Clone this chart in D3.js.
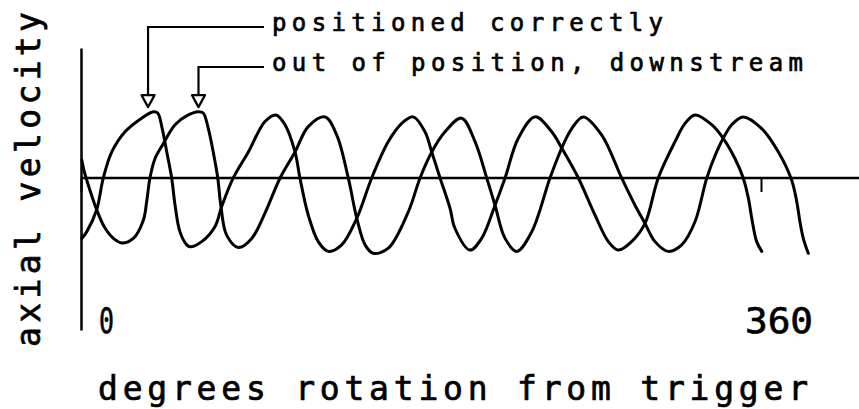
<!DOCTYPE html>
<html>
<head>
<meta charset="utf-8">
<script src="https://cdn.jsdelivr.net/npm/d3@7"></script>
<style>
  html, body { margin: 0; padding: 0; background: #fff; }
  svg { display: block; }
  text { font-family: "DejaVu Sans Mono", monospace; fill: #000; stroke: #000; stroke-width: 0.7px; }
</style>
</head>
<body>
<svg id="chart" width="859" height="409"></svg>
<script>
// Axial velocity traces against rotor angle (degrees from trigger)
const xTickValues = [0, 360];
const xTickLabels = ["0", "360"];

// probe positioned correctly
const degA = [0.4, 3.0, 8.3, 11.8, 16.3, 23.3, 32.1, 38.3, 40.6, 43.0, 45.4, 48.0, 49.8, 52.4, 56.0, 57.7,
  63.9, 70.9, 74.5, 80.6, 88.6, 97.4, 103.2, 108.0, 113.3, 115.9, 120.3, 125.6, 130.9, 138.0, 146.0,
  153.9, 162.7, 169.8, 175.9, 182.1, 185.7, 190.1, 195.4, 197.9, 205.9, 212.1, 219.2, 224.5, 231.5,
  240.4, 249.2, 254.5, 263.3, 272.1, 279.2, 284.5, 291.5, 298.6, 305.6, 314.5, 319.8, 325.1, 333.9,
  340.0, 346.2, 350.6, 353.3, 355.4, 357.7, 360.4];
const velA = [-0.93, -0.83, -0.49, 0.0, 0.40, 0.71, 0.92, 1.02, 1.00, 0.76, 0.40, 0.0, -0.42, -0.83, -1.03, -1.06,
  -0.98, -0.75, -0.44, 0.0, 0.40, 0.87, 0.97, 0.82, 0.40, 0.0, -0.57, -0.98, -1.13, -1.03, -0.62,
  0.0, 0.56, 0.84, 0.94, 0.71, 0.40, 0.0, -0.47, -0.77, -1.11, -0.93, -0.42, 0.0, 0.61,
  0.94, 0.71, 0.46, 0.0, -0.57, -0.98, -1.11, -0.98, -0.70, 0.0, 0.56, 0.84, 0.97, 0.82,
  0.61, 0.30, 0.0, -0.31, -0.67, -0.98, -1.13];

// probe out of position, downstream
const degB = [0.4, 1.7, 3.0, 8.3, 12.7, 18.0, 21.5, 27.7, 33.0, 34.8, 36.5, 39.2, 43.6, 49.8, 56.8, 62.1,
  64.7, 67.4, 70.0, 72.4, 74.1, 77.1, 83.3, 90.4, 97.4, 105.4, 113.3, 120.3, 129.2, 135.4, 141.5,
  146.0, 150.4, 154.7, 162.7, 173.3, 179.5, 185.7, 192.7, 201.5, 208.6, 214.8, 219.2, 224.5, 230.7,
  238.6, 248.3, 254.5, 259.8, 265.9, 275.7, 286.2, 293.3, 298.6, 303.9, 310.9, 318.0, 325.1, 331.3,
  336.5, 340.0, 344.5, 350.6, 360.4, 369.2, 376.2, 378.9, 380.6, 382.4, 385.0];
const velB = [0.28, 0.10, -0.03, -0.49, -0.77, -0.95, -1.00, -0.93, -0.65, -0.36, 0.0, 0.30, 0.53, 0.82, 0.97, 1.02,
  1.00, 0.76, 0.40, 0.0, -0.44, -0.88, -1.07, -0.93, -0.54, 0.0, 0.40, 0.79, 0.94, 0.66, 0.0,
  -0.62, -1.03, -1.16, -1.08, -0.52, 0.0, 0.40, 0.71, 0.92, 0.56, 0.0, -0.42, -0.93, -1.13,
  -0.83, 0.0, 0.46, 0.76, 0.94, 0.66, 0.0, -0.42, -0.70, -0.98, -1.13, -1.03, -0.67, 0.0,
  0.40, 0.61, 0.82, 0.94, 0.76, 0.40, -0.03, -0.36, -0.67, -0.93, -1.16];

// call-out labels and the angle / level their arrows point at
const noteLabels = ["positioned correctly", "out of position, downstream"];
const noteDeg = [35.5, 62.2];
const noteVel = [1.09, 1.09];

const W = 859, H = 409;
const svg = d3.select("#chart");

const x = d3.scaleLinear().domain([0, 360]).range([81, 761]);
const y = d3.scaleLinear().domain([-2.34, 2.0]).range([330, 48]);

// vertical axis
const yAxis = svg.append("g")
  .attr("transform", `translate(${x(0)},0)`)
  .call(d3.axisLeft(y).tickValues([]).tickSizeOuter(0));
yAxis.select(".domain").attr("stroke", "#000").attr("stroke-width", 2.5);

// zero line across the plot
svg.append("line")
  .attr("x1", x(0)).attr("x2", W)
  .attr("y1", y(0)).attr("y2", y(0))
  .attr("stroke", "#000").attr("stroke-width", 2.5);

// tick marks below the zero line
const xAxis = svg.append("g")
  .attr("transform", `translate(0,${y(0)})`)
  .call(d3.axisBottom(x).tickValues(xTickValues).tickSize(14).tickFormat(""));
xAxis.select(".domain").remove();
xAxis.selectAll(".tick line").attr("stroke", "#000").attr("stroke-width", 2);

// tick labels
svg.selectAll("text.tl")
  .data(xTickValues)
  .join("text")
  .attr("class", "tl")
  .attr("x", (d, i) => x(d) + (i === 0 ? 18 : -16))
  .attr("y", 333)
  .attr("font-size", 36)
  .attr("textLength", (d, i) => i === 0 ? 15 : 68)
  .attr("lengthAdjust", "spacingAndGlyphs")
  .text((d, i) => xTickLabels[i]);

// traces
const line = d3.line()
  .x(d => x(d[0]))
  .y(d => y(d[1]))
  .curve(d3.curveCatmullRom.alpha(0.5));

[[degA, velA], [degB, velB]].forEach(([dg, vl]) => {
  svg.append("path")
    .datum(dg.map((d, i) => [d, vl[i]]))
    .attr("d", line)
    .attr("fill", "none")
    .attr("stroke", "#000")
    .attr("stroke-width", 3)
    .attr("stroke-linejoin", "round")
    .attr("stroke-linecap", "round");
});

// call-outs: leader line, open arrowhead, label
const noteY = [27, 67];
const labelX = 272;
noteLabels.forEach((lab, i) => {
  const tx = x(noteDeg[i]);
  const tipY = y(noteVel[i]);
  const headH = 12, headW = 13;
  svg.append("path")
    .attr("d", `M${labelX - 8},${noteY[i]}H${tx}V${tipY - headH}`)
    .attr("fill", "none").attr("stroke", "#000").attr("stroke-width", 2.2);
  svg.append("path")
    .attr("d", `M${tx - headW / 2},${tipY - headH}L${tx + headW / 2},${tipY - headH}L${tx},${tipY}Z`)
    .attr("fill", "#fff").attr("stroke", "#000").attr("stroke-width", 2.2)
    .attr("stroke-linejoin", "round");
  svg.append("text")
    .attr("x", labelX)
    .attr("y", noteY[i] + 4)
    .attr("font-size", 24)
    .attr("textLength", i === 0 ? 391 : 531)
    .attr("lengthAdjust", "spacing")
    .text(lab);
});

// axis titles
svg.append("text")
  .attr("x", 98).attr("y", 400)
  .attr("font-size", 33)
  .attr("textLength", 710)
  .attr("lengthAdjust", "spacing")
  .text("degrees rotation from trigger");

svg.append("text")
  .attr("transform", "translate(40,347) rotate(-90)")
  .attr("font-size", 33)
  .attr("textLength", 335)
  .attr("lengthAdjust", "spacing")
  .text("axial velocity");
</script>
</body>
</html>
